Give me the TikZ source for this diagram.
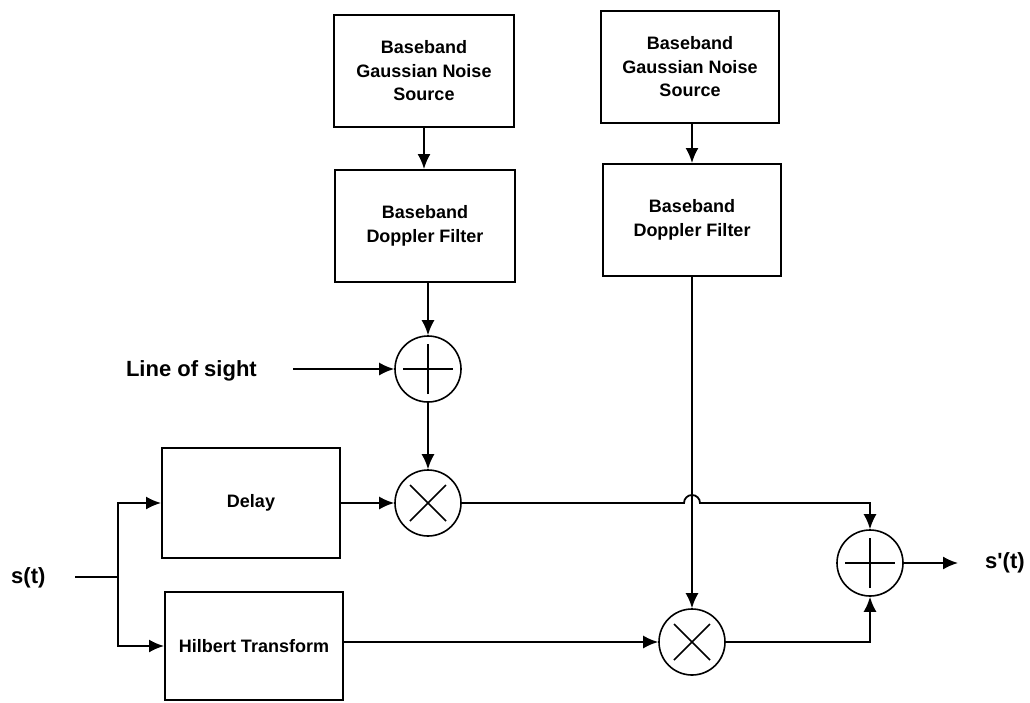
\documentclass[tikz,border=0pt]{standalone}
\usepackage{fontspec}
\setmainfont{Liberation Sans}
\newfontfamily\plainsans{Liberation Sans}
\usetikzlibrary{arrows.meta}
\tikzset{
  blk/.style={draw, line width=2pt, minimum width=180pt, minimum height=112pt, inner sep=0pt, align=center, font=\bfseries\fontsize{18}{23.5}\selectfont},
  sumnode/.style={circle, draw, line width=1.6pt, minimum size=66pt, inner sep=0pt,
    path picture={\draw[line width=1.5pt] ([xshift=-25pt]path picture bounding box.center) -- ([xshift=25pt]path picture bounding box.center)
      ([yshift=-25pt]path picture bounding box.center) -- ([yshift=25pt]path picture bounding box.center);}},
  mulnode/.style={circle, draw, line width=1.6pt, minimum size=66pt, inner sep=0pt,
    path picture={\draw[line width=1.5pt] ([shift={(-18pt,-18pt)}]path picture bounding box.center) -- ([shift={(18pt,18pt)}]path picture bounding box.center)
      ([shift={(-18pt,18pt)}]path picture bounding box.center) -- ([shift={(18pt,-18pt)}]path picture bounding box.center);}},
  conn/.style={line width=1.8pt},
  arr/.style={conn, -{Latex[length=15pt,width=13pt]}},
  lbl/.style={font=\bfseries\fontsize{22}{26}\selectfont, inner sep=0pt},
}
\begin{document}
\begin{tikzpicture}[x=1pt,y=-1pt]
\useasboundingbox (0,0) rectangle (1030,702);
% top boxes
\node[blk] (b1) at (424,71) {Baseband\\Gaussian Noise\\Source};
\node[blk] (b2) at (425,226) {Baseband\\Doppler Filter};
\node[blk, minimum width=178pt] (b3) at (690,67) {Baseband\\Gaussian Noise\\Source};
\node[blk, minimum width=178pt] (b4) at (692,220) {Baseband\\Doppler Filter};
% circles
\node[sumnode] (s1) at (428,369) {};
\node[mulnode] (m1) at (428,503) {};
\node[mulnode] (m2) at (692,642) {};
\node[sumnode] (s2) at (870,563) {};
% lower boxes
\node[blk, minimum width=178pt, minimum height=110pt] (d) at (251,503) {Delay};
\node[blk, minimum width=178pt, minimum height=108pt] (h) at (254,646) {Hilbert Transform};
% labels
\node[lbl, anchor=east] (los) at (257,371) {Line of sight};
\node[lbl, anchor=west] (sin) at (11,578) {s(t)};
\node[lbl, anchor=west] (sout) at (985,563) {\plainsans\bfseries s'(t)};
\coordinate (losend) at (293,369);
\coordinate (inend) at (75,577);
\coordinate (split) at (118,577);
\coordinate (outend) at (958,563);
% connectors
\draw[arr] (b1) -- (b1 |- b2.north);
\draw[arr] (b3.south -| b4) -- (b4.north);
\draw[arr] (b2.south -| s1) -- (s1.north);
\draw[arr] (losend) -- (s1.west);
\draw[arr] (s1.south) -- (m1.north);
\draw[conn] (inend) -- (split);
\draw[arr] (split) |- (d.west |- m1);
\draw[arr] (split) |- (h.west);
\draw[arr] (d.east |- m1) -- (m1.west);
\draw[arr] (b4.south) -- (m2.north);
\draw[arr] (h.east |- m2) -- (m2.west);
\draw[arr] (m1.east) -- ([xshift=-8pt]m2 |- m1) arc (180:0:8pt) -- (s2 |- m1) -- (s2.north);
\draw[arr] (m2.east) -| (s2.south);
\draw[arr] (s2.east) -- (outend);
\end{tikzpicture}
\end{document}
